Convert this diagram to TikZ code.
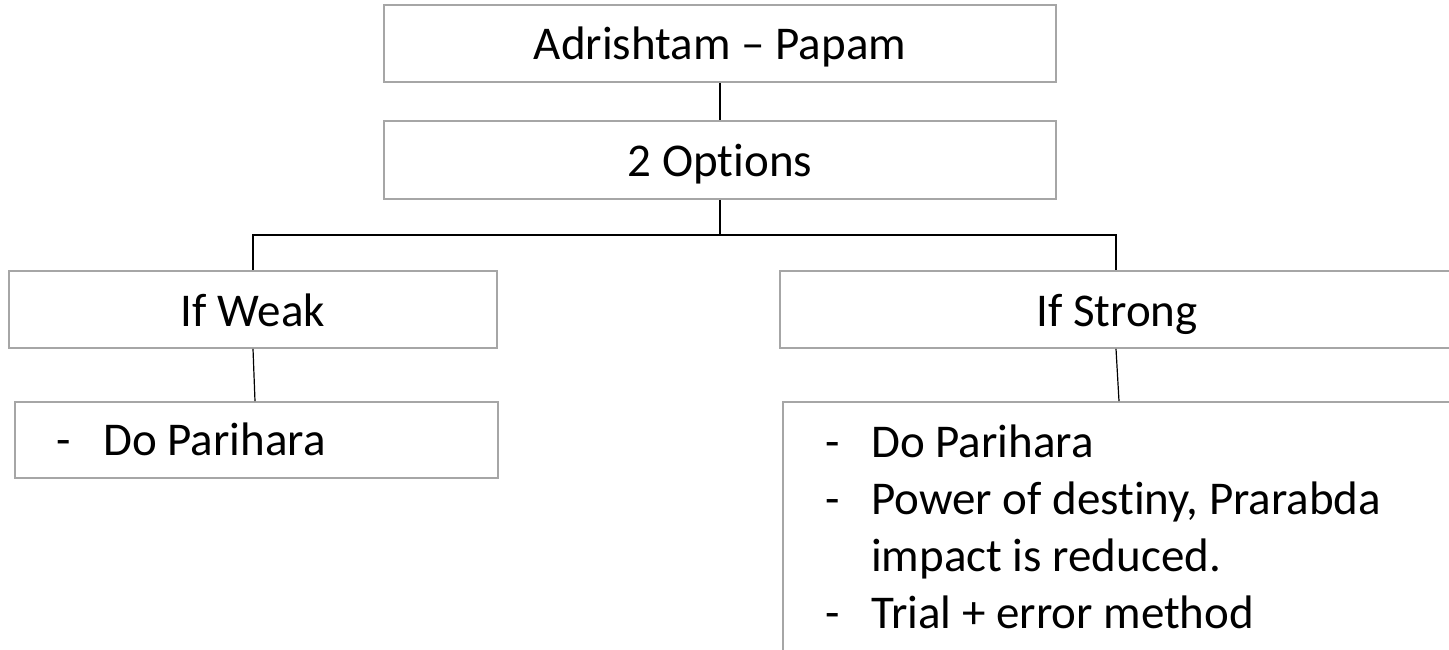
\documentclass[tikz,border=0pt]{standalone}
\usepackage{fontspec}
\setmainfont{Carlito}[Ligatures=NoCommon]
\definecolor{boxgray}{HTML}{A6A6A6}
\begin{document}
\begin{tikzpicture}[x=1pt,y=-1pt,
  box/.style={draw=boxgray, line width=1.6pt, rectangle, inner sep=0pt, text height=33pt, text depth=0pt, font=\fontsize{47}{57}\selectfont},
  conn/.style={draw=black, line width=1.2pt},
  txt/.style={anchor=base west, inner sep=0pt, font=\fontsize{47}{57}\selectfont}]
\useasboundingbox (0,0) rectangle (1449,650);
\clip (0,0) rectangle (1449,650);
\node[box, minimum width=672pt, minimum height=77pt] (top) at (720,43.5) {Adrishtam – Papam};
\node[box, minimum width=672pt, minimum height=78pt] (opt) at (720,160) {2 Options};
\node[box, minimum width=488pt, minimum height=77pt] (weak) at (253,309.5) {If Weak};
\node[box, minimum width=684pt, minimum height=77pt] (strong) at (1122,309.5) {\hspace*{-10pt}If Strong};
\node[box, minimum width=483pt, minimum height=76pt] (wlist) at (256.5,440) {};
\node[box, minimum width=684pt, minimum height=300pt] (slist) at (1125,552) {};
\coordinate (hm) at (720,235);
\coordinate (sc) at (1116,0);
\coordinate (sl) at (1119,0);
\draw[conn] (top.south) -- (opt.north);
\draw[conn] (opt.south) -- (hm);
\draw[conn] (weak.north) |- (hm) -| (strong.north -| sc);
\draw[conn] (weak.south) -- ([xshift=-1.5pt]wlist.north);
\draw[conn] (strong.south -| sc) -- (slist.north -| sl);
\node[txt] (wd1) at (56,455) {-};
\node[txt] (wt1) at (103,455) {Do Parihara};
\node[txt] (sd1) at (825,457) {-};
\node[txt] (st1) at (871,457) {Do Parihara};
\node[txt] (sd2) at (825,514) {-};
\node[txt] (st2) at (871,514) {Power of destiny, Prarabda};
\node[txt] (st3) at (871,571) {impact is reduced.};
\node[txt] (sd4) at (825,628) {-};
\node[txt] (st4) at (871,628) {Trial + error method};
\end{tikzpicture}
\end{document}
